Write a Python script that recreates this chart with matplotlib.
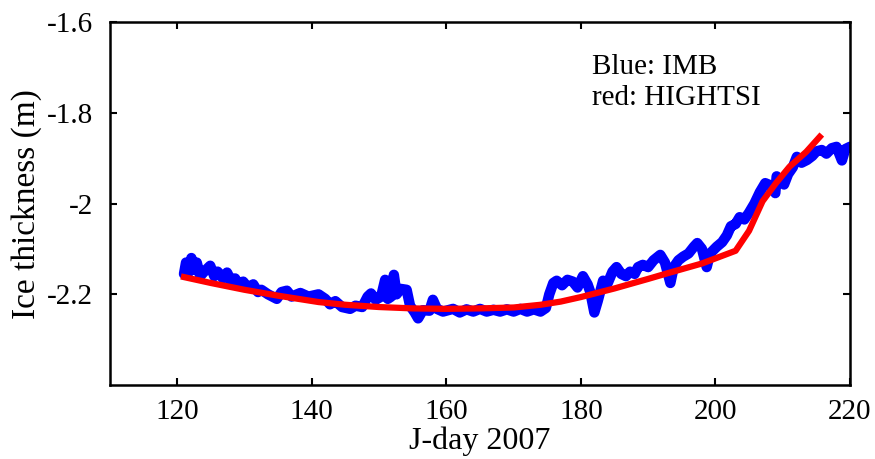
import matplotlib
matplotlib.use('Agg')
import matplotlib.pyplot as plt

plt.rcParams['font.family'] = ['Liberation Serif', 'DejaVu Serif']

# IMB observations (blue)
imb_day = [121.0, 121.3, 121.8, 122.1, 122.5, 122.9, 123.4, 124.0, 124.9, 125.5,
           126.0, 126.8, 127.4, 128.0, 128.6, 129.2, 129.8, 130.5, 131.3, 132.0,
           132.5, 133.5, 134.8, 135.5, 136.3, 137.0, 138.3, 139.5, 141.0, 142.0,
           142.7, 143.5, 144.5, 145.7, 146.5, 147.5, 148.3, 148.8, 149.5, 150.3,
           150.9, 151.3, 151.8, 152.2, 152.6, 153.2, 154.1, 154.6, 155.3, 155.8,
           156.5, 157.5, 158.0, 158.6, 159.5, 161.0, 162.0, 163.0, 164.0, 165.0,
           166.0, 167.0, 168.0, 169.0, 170.0, 171.0, 172.0, 173.0, 174.0, 174.8,
           175.3, 175.9, 176.4, 177.2, 178.0, 178.8, 179.5, 180.3, 181.0, 181.4,
           182.0, 182.5, 183.3, 184.0, 184.7, 185.3, 186.0, 186.7, 187.3, 188.0,
           188.5, 189.2, 190.0, 190.8, 191.8, 192.5, 193.3, 193.8, 194.5, 195.2,
           196.0, 196.8, 197.3, 198.0, 198.7, 199.2, 200.2, 201.0, 201.7, 202.3,
           203.0, 203.6, 204.3, 205.0, 205.8, 206.6, 207.4, 208.2, 208.9, 209.1,
           209.6, 210.2, 210.8, 211.5, 212.1, 212.8, 213.6, 214.4, 215.0, 215.8,
           216.5, 217.3, 218.0, 218.8, 219.3, 220.0, 220.5]
imb_h = [-2.155, -2.130, -2.150, -2.120, -2.145, -2.130, -2.160, -2.150, -2.137, -2.160,
         -2.150, -2.165, -2.152, -2.170, -2.165, -2.180, -2.172, -2.185, -2.178, -2.195,
         -2.190, -2.200, -2.210, -2.195, -2.192, -2.205, -2.197, -2.205, -2.200, -2.210,
         -2.222, -2.215, -2.228, -2.232, -2.225, -2.228, -2.205, -2.198, -2.212, -2.205,
         -2.168, -2.210, -2.205, -2.157, -2.200, -2.188, -2.190, -2.225, -2.240, -2.253,
         -2.235, -2.236, -2.212, -2.232, -2.238, -2.232, -2.240, -2.233, -2.238, -2.232,
         -2.238, -2.234, -2.238, -2.233, -2.238, -2.232, -2.238, -2.233, -2.238, -2.230,
         -2.200, -2.175, -2.170, -2.180, -2.168, -2.172, -2.185, -2.160, -2.178, -2.195,
         -2.240, -2.215, -2.170, -2.175, -2.150, -2.140, -2.155, -2.160, -2.150, -2.155,
         -2.140, -2.135, -2.140, -2.125, -2.113, -2.130, -2.175, -2.140, -2.125, -2.117,
         -2.110, -2.095, -2.087, -2.100, -2.140, -2.110, -2.095, -2.085, -2.070, -2.050,
         -2.045, -2.030, -2.035, -2.020, -2.000, -1.975, -1.955, -1.960, -1.977, -1.940,
         -1.950, -1.958, -1.935, -1.920, -1.897, -1.910, -1.904, -1.895, -1.885, -1.882,
         -1.890, -1.878, -1.875, -1.905, -1.880, -1.875, -1.875]

# HIGHTSI model (red)
model_day = [121, 125, 130, 135, 141, 145, 150, 155, 160, 165, 170, 174, 177,
             180, 185, 190, 193, 198, 203, 205, 207, 209, 211, 213.5, 215.5]
model_h = [-2.162, -2.175, -2.190, -2.203, -2.217, -2.223, -2.228, -2.231, -2.232,
           -2.231, -2.229, -2.223, -2.216, -2.206, -2.187, -2.166, -2.153, -2.132,
           -2.104, -2.060, -1.995, -1.955, -1.919, -1.886, -1.853]

fig = plt.figure(figsize=(8.75, 4.59), dpi=100)
ax = fig.add_axes([0.1257, 0.161, 0.8457, 0.791])

ax.plot(imb_day, imb_h, color='blue', lw=7.5,
        solid_capstyle='round', solid_joinstyle='round')
ax.plot(model_day, model_h, color='red', lw=4.5)

ax.set_xlim(110, 220)
ax.set_ylim(-2.4, -1.6)
ax.set_xticks([120, 140, 160, 180, 200, 220])
ax.set_yticks([-2.2, -2, -1.8, -1.6])
ax.set_yticklabels(['-2.2', '-2', '-1.8', '-1.6'])

ax.tick_params(direction='in', length=5, width=1.5, labelsize=21,
               top=True, right=True)
ax.tick_params(axis='x', pad=10)
ax.tick_params(axis='y', pad=12)
for s in ax.spines.values():
    s.set_linewidth(1.8)

ax.set_xlabel('J-day 2007', fontsize=23, labelpad=1)
ax.set_ylabel('Ice thickness (m)', fontsize=24, labelpad=4)

ax.text(0.651, 0.857, 'Blue: IMB', transform=ax.transAxes,
        fontsize=21, va='baseline')
ax.text(0.651, 0.771, 'red: HIGHTSI', transform=ax.transAxes,
        fontsize=21, va='baseline')

fig.savefig('out.png', dpi=100)
